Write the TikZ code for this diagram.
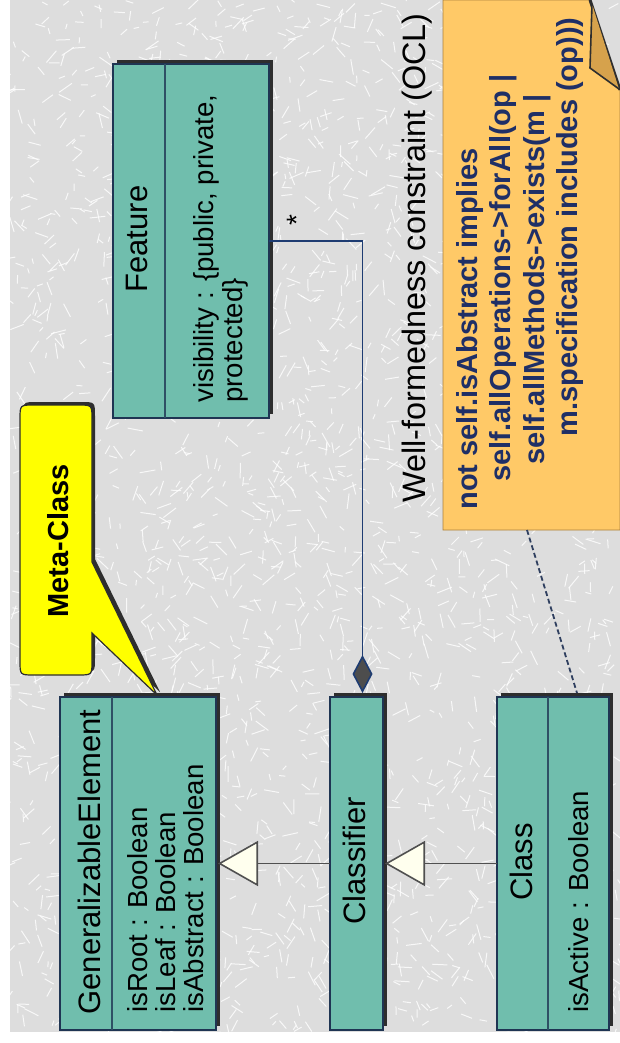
\documentclass[tikz,border=0pt]{standalone}
\usepackage{fontspec}
\setmainfont{Liberation Sans}
\usetikzlibrary{arrows.meta,shadows}
\definecolor{bgc}{HTML}{DDDDDD}
\definecolor{tealc}{HTML}{70BEAD}
\definecolor{boxline}{HTML}{1F3553}
\definecolor{shadowc}{HTML}{2E2E2E}
\definecolor{notec}{HTML}{FFC967}
\definecolor{foldc}{HTML}{D6A24C}
\definecolor{navytext}{HTML}{1F2F66}
\definecolor{calloutc}{HTML}{FFFF00}
\definecolor{ivory}{HTML}{FFFFEE}
\definecolor{genline}{HTML}{505050}
\definecolor{compline}{HTML}{1E3C72}
\definecolor{diamc}{HTML}{4D4D4D}
\definecolor{depline}{HTML}{2F3F5F}
\begin{document}
\begin{tikzpicture}[x=0.5pt,y=-0.5pt,
  umlbox/.style={draw=boxline, line width=0.8pt, fill=tealc, inner sep=0pt, outer sep=0pt,
    drop shadow={shadow xshift=2pt, shadow yshift=2pt, fill=shadowc, opacity=1}},
  divider/.style={draw=boxline!80!tealc, line width=0.7pt},
  hdr/.style={rotate=90, inner sep=0pt, font=\fontsize{15.5}{16}\selectfont},
  attr/.style={rotate=90, inner sep=0pt, anchor=base west, font=\fontsize{13.8}{14}\selectfont},
  ocl/.style={rotate=90, inner sep=0pt, anchor=west, text=navytext, font=\fontsize{14.5}{15}\selectfont\bfseries},
  gen/.style={draw=genline, line width=0.8pt, -{Triangle[length=20pt, width=22.5pt, fill=ivory]}},
  comp/.style={draw=compline, line width=0.8pt, -{Diamond[length=19pt, width=10pt, fill=diamc]}},
  dep/.style={draw=depline, line width=0.9pt, dash pattern=on 2.5pt off 1.5pt}
]
\useasboundingbox (0,0) rectangle (620,1043);
% background
\fill[white] (0,0) rectangle (620,1043);
\fill[bgc] (10,0) rectangle (620,1032);
\begin{scope}
\clip (10,0) rectangle (620,1032);
\pgfmathsetseed{7}
\foreach \i in {1,...,2600} {
  \pgfmathsetmacro\xx{10+610*rnd}
  \pgfmathsetmacro\yy{1032*rnd}
  \pgfmathsetmacro\aa{360*rnd}
  \pgfmathsetmacro\ll{5+11*rnd}
  \draw[white, line width=0.5pt, opacity=0.8] (\xx,\yy) -- ++(\aa:\ll);
}
\end{scope}

% OCL note
\fill[notec, draw=foldc!80!black, line width=0.4pt] (443,0) -- (590,0) -- (620,90) -- (620,530) -- (443,530) -- cycle;
\draw[shadowc, line width=1.5pt] (590,0) -- (620,90);
\filldraw[fill=foldc, draw=shadowc, line width=0.8pt] (592,4) -- (590,68) -- (619,89);
\coordinate (notept) at (527,530);
\node[ocl] (l1) at (470,510) {not self.isAbstract implies};
\node[ocl] (l2) at (503,482) {self.allOperations->forAll(op |};
\node[ocl] (l3) at (537,465) {self.allMethods->exists(m |};
\node[ocl] (l4) at (570,437) {m.specification includes (op)))};

% constraint title
\node[rotate=90, inner sep=0pt, font=\fontsize{16.2}{17}\selectfont] (wf) at (417,258) {Well-formedness constraint (OCL)};

% callout
\fill[shadowc, xshift=1.5pt, yshift=1.5pt] (34,405) -- (78,405) .. controls (92,405) .. (92,419) -- (92,562) -- (157,695) -- (92,633) -- (92,661) .. controls (92,675) .. (78,675) -- (34,675) .. controls (20,675) .. (20,661) -- (20,419) .. controls (20,405) .. (34,405) -- cycle;
\filldraw[fill=calloutc, draw=shadowc, line width=0.6pt] (34,405) -- (78,405) .. controls (92,405) .. (92,419) -- (92,562) -- (157,695) -- (92,633) -- (92,661) .. controls (92,675) .. (78,675) -- (34,675) .. controls (20,675) .. (20,661) -- (20,419) .. controls (20,405) .. (34,405) -- cycle;
\node[rotate=90, inner sep=0pt, font=\fontsize{14.5}{15}\selectfont\bfseries] (meta) at (58,541) {Meta-Class};

% boxes
\node[umlbox, minimum width=78pt, minimum height=177pt] (feature) at (191,241) {};
\draw[divider] ([xshift=26pt]feature.north west) -- ([xshift=26pt]feature.south west);
\node[hdr, anchor=base] (featureh) at (147,239) {Feature};
\node[attr] (fa1) at (213,403) {visibility : \{public, private,};
\node[attr] (fa2) at (242,403) {protected\}};

\node[umlbox, minimum width=78pt, minimum height=166.5pt] (ge) at (138,863.5) {};
\draw[divider] ([xshift=26pt]ge.north west) -- ([xshift=26pt]ge.south west);
\node[hdr, anchor=base] (geh) at (100,862) {GeneralizableElement};
\node[attr] (ga1) at (147,1013) {isRoot : Boolean};
\node[attr] (ga2) at (175,1013) {isLeaf : Boolean};
\node[attr] (ga3) at (203,1013) {isAbstract : Boolean};

\node[umlbox, minimum width=26.5pt, minimum height=166.5pt] (classifier) at (356.5,863.5) {};
\node[hdr, anchor=base] (classifierh) at (365,861) {Classifier};

\node[umlbox, minimum width=56pt, minimum height=166.5pt] (class) at (553,863.5) {};
\draw[divider] ([xshift=25.5pt]class.north west) -- ([xshift=25.5pt]class.south west);
\node[hdr, anchor=base] (classh) at (532,862) {Class};
\node[attr] (ca1) at (588,1013) {isActive : Boolean};

% connectors
\draw[gen] (classifier.west) -- ([xshift=1pt]ge.east);
\draw[gen] (class.west) -- ([xshift=1pt]classifier.east);
\draw[comp] (feature.east) -| ([xshift=3pt, yshift=2pt]classifier.north);
\node[rotate=90, inner sep=0pt, font=\fontsize{14}{14}\selectfont] (mult) at (297,220) {*};
\draw[dep] (notept) -- ([xshift=12pt, yshift=2pt]class.north);
\end{tikzpicture}
\end{document}
